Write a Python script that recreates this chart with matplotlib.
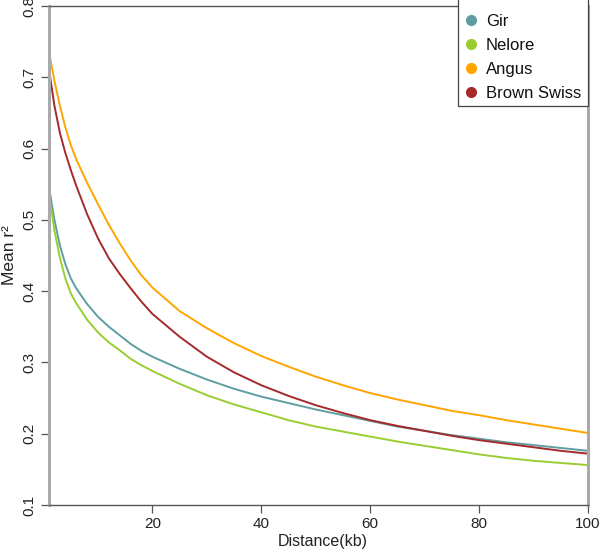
import matplotlib
matplotlib.use("Agg")
import matplotlib.pyplot as plt
from matplotlib.lines import Line2D
from matplotlib.patches import Rectangle

plt.rcParams['font.family'] = ['Liberation Sans', 'DejaVu Sans']

distance = [1, 2, 3, 4, 5, 6, 8, 10, 12, 14, 16, 18, 20, 25, 30, 35, 40, 45,
            50, 55, 60, 65, 70, 75, 80, 85, 90, 95, 100]

gir = [0.546, 0.500, 0.464, 0.438, 0.418, 0.404, 0.382, 0.364, 0.350, 0.338,
       0.326, 0.316, 0.308, 0.291, 0.276, 0.263, 0.252, 0.243, 0.234, 0.226,
       0.218, 0.210, 0.204, 0.198, 0.193, 0.188, 0.184, 0.180, 0.176]
nelore = [0.538, 0.485, 0.447, 0.418, 0.397, 0.383, 0.360, 0.342, 0.328, 0.317,
          0.305, 0.296, 0.288, 0.270, 0.254, 0.241, 0.230, 0.219, 0.210, 0.203,
          0.196, 0.189, 0.183, 0.177, 0.171, 0.166, 0.162, 0.159, 0.156]
angus = [0.735, 0.695, 0.660, 0.630, 0.605, 0.585, 0.552, 0.522, 0.493, 0.467,
         0.443, 0.422, 0.405, 0.372, 0.348, 0.327, 0.309, 0.294, 0.280, 0.268,
         0.257, 0.248, 0.240, 0.232, 0.226, 0.219, 0.213, 0.207, 0.201]
brown_swiss = [0.711, 0.660, 0.622, 0.594, 0.570, 0.548, 0.508, 0.474, 0.446,
               0.424, 0.404, 0.385, 0.368, 0.336, 0.308, 0.286, 0.268, 0.253,
               0.240, 0.229, 0.219, 0.211, 0.204, 0.197, 0.191, 0.186, 0.181,
               0.176, 0.172]

series_names = ["Gir", "Nelore", "Angus", "Brown Swiss"]
series_values = [gir, nelore, angus, brown_swiss]
colors = ["#5F9EA0", "#9ACD32", "#FFA500", "#A52A2A"]

x_ticks = [20, 40, 60, 80, 100]
y_ticks = [0.1, 0.2, 0.3, 0.4, 0.5, 0.6, 0.7, 0.8]

W, H = 600, 555
fig = plt.figure(figsize=(6.0, 5.55), dpi=100)
ax = fig.add_axes([49/W, 1 - 505/H, (588-49)/W, (505-6)/H])

for name, vals, c in zip(series_names, series_values, colors):
    ax.plot(distance, vals, color=c, lw=1.4, solid_joinstyle='round')

ax.set_xlim(1, 100)
ax.set_ylim(0.1, 0.8)
ax.set_xticks(x_ticks)
ax.set_yticks(y_ticks)
ax.set_yticklabels([f"{v:.1f}" for v in y_ticks], rotation=90, va='center')

for s in ['left', 'right']:
    ax.spines[s].set_color('#aaaaaa')
    ax.spines[s].set_linewidth(2.2)
for s in ['top', 'bottom']:
    ax.spines[s].set_color('#555555')
    ax.spines[s].set_linewidth(1.0)

ax.tick_params(axis='both', direction='out', length=6, width=0.9,
               color='#555555', labelsize=11, labelcolor='#222222')
ax.tick_params(axis='y', pad=3)
ax.tick_params(axis='x', pad=3)

ax.set_xlabel("Distance(kb)", fontsize=11.5, labelpad=3, color='#222222')
ax.xaxis.set_label_coords(0.508, -0.058)
ax.set_ylabel("Mean r²", fontsize=12.5, labelpad=4, color='#222222')

# legend frame (box extends above the top of the figure as in the reference)
frame = Rectangle((458/W, 1 - 106/H), 130/W, 106/H + 0.02,
                  transform=fig.transFigure, facecolor='white',
                  edgecolor='#444444', linewidth=0.9, zorder=5)
fig.patches.append(frame)

handles = [Line2D([0], [0], marker='o', color='none', markerfacecolor=c,
                  markeredgecolor=c, markersize=7) for c in colors]
leg = fig.legend(handles, series_names, loc='upper left',
                 bbox_to_anchor=(466/W, 1 - 14/H), bbox_transform=fig.transFigure,
                 borderaxespad=0, borderpad=0, frameon=False,
                 fontsize=12, handlelength=0.56, handletextpad=0.64,
                 labelspacing=0.53)
leg.set_zorder(6)
for t in leg.get_texts():
    t.set_color('#111111')

fig.savefig("out.png", dpi=100)
